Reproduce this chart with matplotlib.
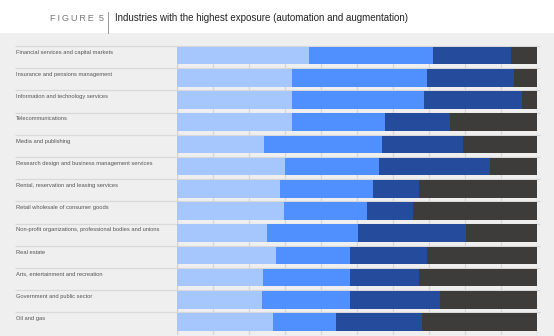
import matplotlib.pyplot as plt
import numpy as np

# ---------------- data ----------------
industries = [
    "Financial services and capital markets",
    "Insurance and pensions management",
    "Information and technology services",
    "Telecommunications",
    "Media and publishing",
    "Research design and business management services",
    "Rental, reservation and leasing services",
    "Retail wholesale of consumer goods",
    "Non-profit organizations, professional bodies and unions",
    "Real estate",
    "Arts, entertainment and recreation",
    "Government and public sector",
    "Oil and gas",
]
seg1 = [36.6, 31.8, 31.8, 31.8, 24.2, 29.9, 28.6, 29.6, 25.0, 27.5, 23.8, 23.7, 26.6]
seg2 = [34.4, 37.5, 36.8, 25.8, 32.8, 26.2, 25.7, 23.0, 25.3, 20.6, 24.1, 24.2, 17.6]
seg3 = [21.6, 24.1, 27.1, 18.3, 22.5, 30.8, 13.0, 12.8, 29.9, 21.4, 19.4, 25.0, 23.8]
seg4 = [7.4, 6.6, 4.3, 24.1, 20.5, 13.0, 32.7, 34.6, 19.8, 30.4, 32.6, 27.1, 32.0]
grid_ticks = [10, 20, 30, 40, 50, 60, 70, 80, 90]

colors = ["#a6c7fe", "#508ffe", "#244b9c", "#3d3c3b"]
BG = "#efefef"

W, H = 554, 336
fig = plt.figure(figsize=(W / 100, H / 100), dpi=100, facecolor=BG)

# white header band
fig.patches.append(plt.Rectangle((0, 1 - 32.5 / H), 1, 32.5 / H, transform=fig.transFigure,
                                 facecolor="white", edgecolor="none", zorder=0))
fig.text(50 / W, 1 - 21 / H, "F\u2009I\u2009G\u2009U\u2009R\u2009E  5", fontsize=6.6,
         color="#777777", family="Liberation Sans", va="baseline")
fig.lines.append(plt.Line2D([108 / W, 108 / W], [1 - 12 / H, 1 - 32.5 / H],
                            transform=fig.transFigure, color="#888888", lw=0.6))
fig.text(115 / W, 1 - 21 / H, "Industries with the highest exposure (automation and augmentation)",
         fontsize=7.0, color="#222222", family="Liberation Sans", va="baseline")

# ---------------- bars ----------------
n = len(industries)
row_h = 22.2
top_px = 46
x0, x1 = 177, 537.3
ax = fig.add_axes([x0 / W, 1 - (top_px + n * row_h) / H, (x1 - x0) / W, n * row_h / H])
ax.set_facecolor(BG)
ax.set_xlim(0, 100)
ax.set_ylim(n, 0)

y = np.arange(n) + 0.43
left = np.zeros(n)
for vals, c in zip([seg1, seg2, seg3, seg4], colors):
    ax.barh(y, vals, left=left, height=0.79, color=c, edgecolor="none", zorder=3)
    left += np.array(vals)

for t in grid_ticks:
    ax.axvline(t, color="#d6d6d6", lw=0.9, zorder=1)
ax.axvline(0, color="#d0d0d0", lw=1.0, zorder=1)
ax.axvline(100, color="#d0d0d0", lw=1.0, zorder=1)

px = 100 / (x1 - x0)
sep_left = (15 - x0) * px
sep_right = (540 - x0) * px
ax.hlines(np.arange(n), sep_left, sep_right, color="#d8d8d8", lw=0.9, clip_on=False, zorder=2)

for i, name in enumerate(industries):
    ax.text(sep_left + 0.2, i + 0.17, name, fontsize=4.15, color="#555555",
            family="Liberation Sans", va="top", ha="left", clip_on=False)

for s in ax.spines.values():
    s.set_visible(False)
ax.set_xticks([])
ax.set_yticks([])

fig.savefig("out.png", dpi=100, facecolor=BG)
